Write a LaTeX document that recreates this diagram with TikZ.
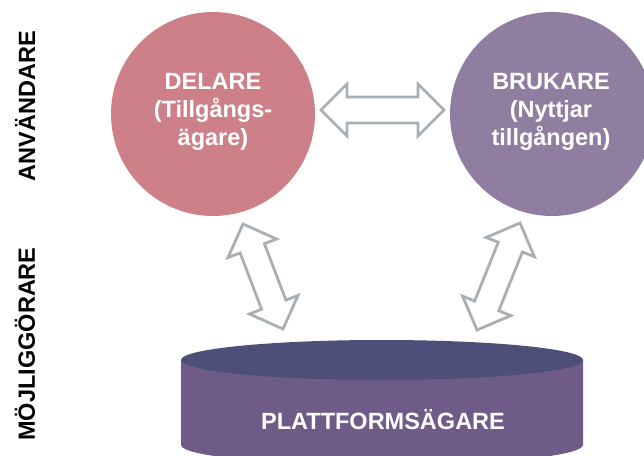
\documentclass[tikz,border=0pt]{standalone}
\usepackage{fontspec}
\setmainfont{Liberation Sans}
\usetikzlibrary{calc}

\definecolor{sharerpink}{RGB}{205,128,136}
\definecolor{userviolet}{RGB}{143,126,160}
\definecolor{disktop}{RGB}{76,80,121}
\definecolor{diskbody}{RGB}{110,91,136}
\definecolor{arrowgray}{RGB}{168,176,181}

\tikzset{
  role/.style={circle, minimum size=204pt, inner sep=0pt, text=white,
    align=center, font=\fontsize{23.5}{28}\selectfont\bfseries},
  sidelabel/.style={rotate=90, text=black, inner sep=0pt,
    font=\fontsize{23.5}{28}\selectfont\bfseries},
  disklabel/.style={text=white, inner sep=0pt,
    font=\fontsize{23.5}{28}\selectfont\bfseries},
  hollowarrow/.style={draw=arrowgray, fill=white, line width=2.8pt, line join=miter},
}

% hollow double arrow between two tip coordinates
% head length 26pt, head half-width 26pt, shaft half-width 13pt
\newcommand\hollowdoublearrow[2]{%
  \draw[hollowarrow] let \p1=($(#2)-(#1)$), \n1={atan2(\y1,\x1)},
      \n2={veclen(\x1,\y1)} in
    (#1) -- ++({\n1+45}:36.77pt) -- ++({\n1-90}:13pt)
    -- ++({\n1}:{\n2-52pt}) -- ++({\n1+90}:13pt)
    -- ++({\n1-45}:36.77pt) -- ++({\n1-135}:36.77pt)
    -- ++({\n1+90}:13pt) -- ++({\n1+180}:{\n2-52pt})
    -- ++({\n1-90}:13pt) -- cycle;}

\begin{document}
\begin{tikzpicture}[x=1pt, y=1pt]
  \useasboundingbox (0,0) rectangle (644,455);
  \clip (0,0) rectangle (644,455);

  % the two user roles
  \node[role, fill=sharerpink] (delare) at (213,341) {};
  \node[role, fill=userviolet] (brukare) at (552,341) {};
  \node[role] (delaretext) at (213,343) {DELARE\\(Tillgångs-\\ägare)};
  \node[role] (brukaretext) at (551,343) {BRUKARE\\(Nyttjar\\tillgången)};

  % platform cylinder
  \path[fill=diskbody] (181,95) -- (181,10)
    arc[start angle=180, end angle=360, x radius=201, y radius=20]
    -- (583,95) -- cycle;
  \path[fill=disktop] (382,95) ellipse[x radius=201, y radius=20];
  \node[disklabel] (plattform) at (383,35) {PLATTFORMSÄGARE};

  % side labels
  \node[sidelabel] (anvandare) at (25,349) {ANVÄNDARE};
  \node[sidelabel] (mojliggorare) at (25,111) {MÖJLIGGÖRARE};

  % arrow tips
  \coordinate (hl) at (321,345);
  \coordinate (hr) at (444,345);
  \coordinate (lt) at (243,231);
  \coordinate (lb) at (283,126);
  \coordinate (rt) at (520,232);
  \coordinate (rb) at (477,125);

  \hollowdoublearrow{hl}{hr}
  \hollowdoublearrow{lt}{lb}
  \hollowdoublearrow{rt}{rb}
\end{tikzpicture}
\end{document}
